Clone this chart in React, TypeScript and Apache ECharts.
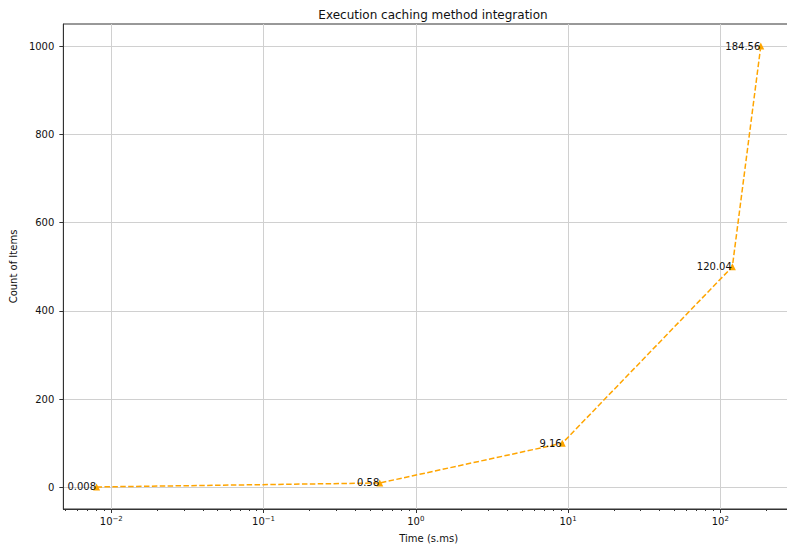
import React, { useEffect, useRef } from "react";
import * as echarts from "echarts";

const timeValues = [0.008, 0.58, 9.16, 120.04, 184.56];
const countValues = [1, 10, 100, 500, 1000];
const pointLabels = ["0.008", "0.58", "9.16", "120.04", "184.56"];
const yTicks = [0, 200, 400, 600, 800, 1000];
const xMajorExponents = [-2, -1, 0, 1, 2];

export default function App() {
  const ref = useRef<HTMLDivElement>(null);
  useEffect(() => {
    if (!ref.current) return;
    const chart = echarts.init(ref.current, null, { renderer: "svg" });
    const lx0 = Math.log10(Math.min(...timeValues));
    const lx1 = Math.log10(Math.max(...timeValues));
    const xm = (lx1 - lx0) * 0.05;
    const lmin = lx0 - xm;
    const lmax = lx1 + xm;
    const y0 = Math.min(...countValues);
    const y1 = Math.max(...countValues);
    const ym = (y1 - y0) * 0.05;
    const minorLogs: number[] = [];
    for (let e = -3; e <= 2; e++) {
      for (let m = 2; m <= 9; m++) {
        const v = Math.log10(m * Math.pow(10, e));
        if (v >= lmin && v <= lmax) minorLogs.push(v);
      }
    }
    const font = "DejaVu Sans";
    const sup = (e: number) => (e < 0 ? "\u2212" + Math.abs(e) : String(e));
    chart.setOption({
      animation: false,
      backgroundColor: "#ffffff",
      textStyle: { fontFamily: font },
      title: {
        text: "Execution caching method integration",
        left: 428,
        textAlign: "center",
        top: 4,
        textStyle: { fontFamily: font, fontSize: 12, fontWeight: "normal", color: "#111" },
      },
      grid: {
        left: 63,
        top: 24,
        width: 731,
        height: 485,
        show: true,
        borderColor: "#333",
        borderWidth: 1,
        backgroundColor: "transparent",
      },
      xAxis: [
        {
          type: "log",
          min: Math.pow(10, lmin),
          max: Math.pow(10, lmax),
          position: "bottom",
          name: "Time (s.ms)",
          nameLocation: "middle",
          nameGap: 24,
          nameTextStyle: { fontFamily: font, fontSize: 10, color: "#111" },
          axisLine: { show: true, onZero: false, lineStyle: { color: "#333", width: 1 } },
          axisTick: { show: false },
          axisLabel: {
            margin: 6,
            showMinLabel: false,
            showMaxLabel: false,
            formatter: (v: number) => {
              const e = Math.log10(v);
              const r = Math.round(e);
              if (Math.abs(e - r) > 1e-6) return "";
              return "{b|10}{s|" + sup(r) + "}";
            },
            rich: {
              b: { fontFamily: font, fontSize: 10, color: "#111" },
              s: { fontFamily: font, fontSize: 7, color: "#111", padding: [0, 0, 6, 0] },
            },
          },
          splitLine: { show: true, lineStyle: { color: "#d0d0d0", width: 1 } },
        },
        {
          type: "value",
          min: lmin,
          max: lmax,
          position: "bottom",
          axisLine: { show: false, onZero: false },
          axisLabel: { show: false },
          splitLine: { show: false },
          axisTick: {
            show: true,
            customValues: xMajorExponents,
            length: 4,
            lineStyle: { color: "#333", width: 1 },
          },
        },
        {
          type: "value",
          min: lmin,
          max: lmax,
          position: "bottom",
          axisLine: { show: false, onZero: false },
          axisLabel: { show: false },
          splitLine: { show: false },
          axisTick: {
            show: true,
            customValues: minorLogs,
            length: 2,
            lineStyle: { color: "#333", width: 1 },
          },
        },
      ],
      yAxis: {
        type: "value",
        min: y0 - ym,
        max: y1 + ym,
        splitNumber: 5,
        name: "Count of Items",
        nameLocation: "middle",
        nameGap: 41,
        nameTextStyle: { fontFamily: font, fontSize: 10, color: "#111" },
        axisLine: { show: true, onZero: false, lineStyle: { color: "#333", width: 1 } },
        axisTick: {
          show: true,
          length: 4,
          customValues: yTicks,
          lineStyle: { color: "#333", width: 1 },
        },
        axisLabel: {
          margin: 9,
          customValues: yTicks,
          fontFamily: font,
          fontSize: 10,
          color: "#111",
          formatter: (v: number) => (Math.abs(v % 200) < 1e-6 ? String(v) : ""),
        },
        splitLine: { show: true, lineStyle: { color: "#d0d0d0", width: 1 } },
      },
      series: [
        {
          type: "line",
          xAxisIndex: 0,
          data: timeValues.map((t, i) => [t, countValues[i]]),
          symbol: "triangle",
          symbolSize: 7,
          itemStyle: { color: "#FFA500" },
          lineStyle: { color: "#FFA500", width: 1.5, type: [5.5, 2.4] },
          label: {
            show: true,
            position: "left",
            distance: -3,
            fontFamily: font,
            fontSize: 10,
            color: "#111",
            formatter: (p: any) => pointLabels[p.dataIndex],
          },
        },
      ],
    });
    return () => chart.dispose();
  }, []);
  return (
    <div
      style={{ position: "absolute", left: 0, top: 0, width: 787, height: 548, overflow: "hidden", background: "#fff" }}
    >
      <div ref={ref} style={{ width: 800, height: 548 }} />
    </div>
  );
}
